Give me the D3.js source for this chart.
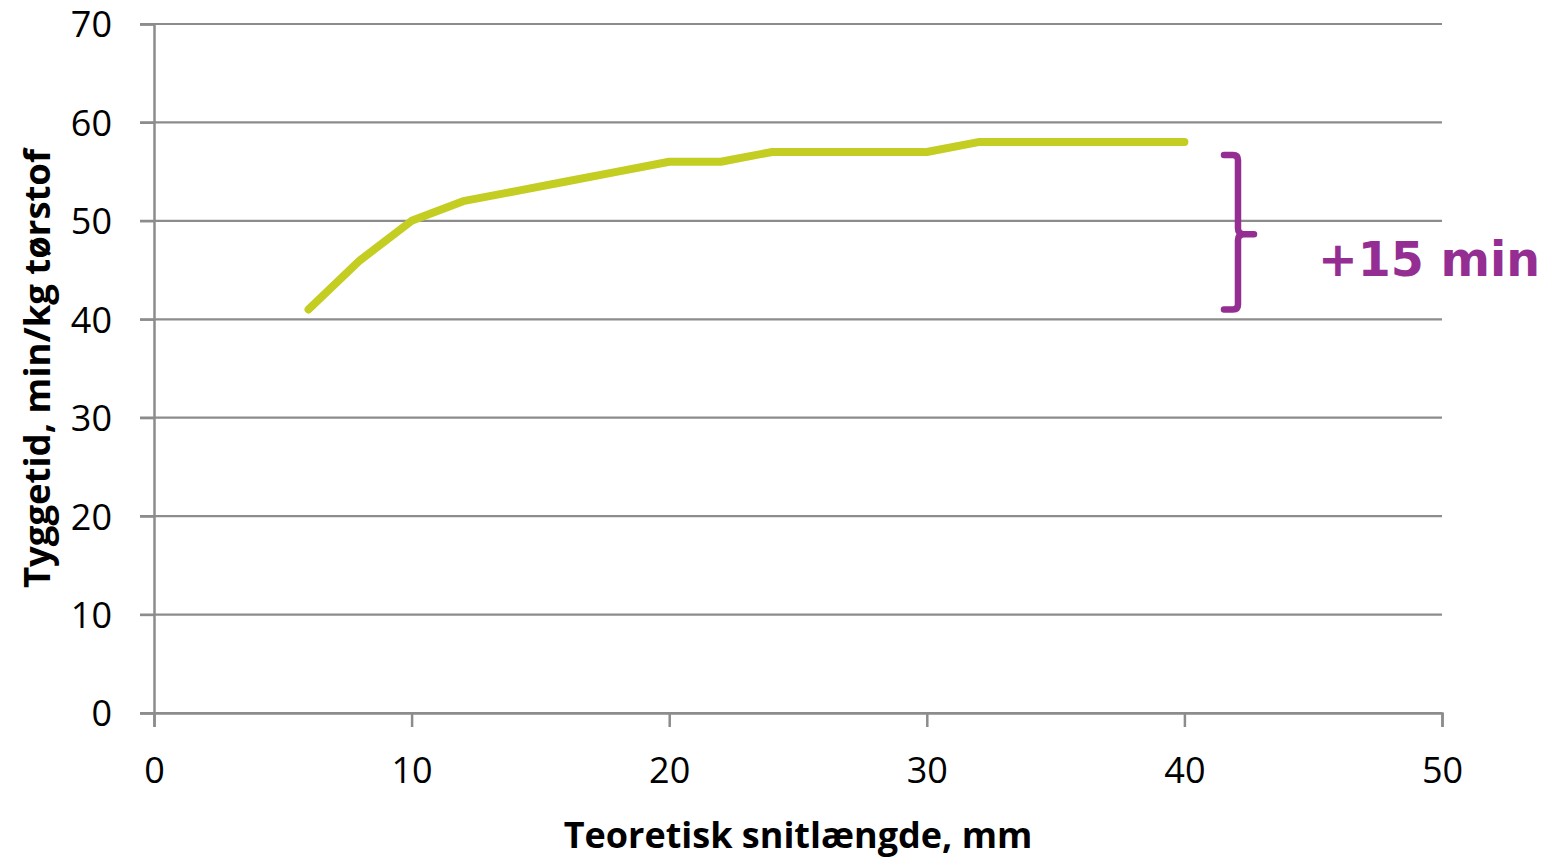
<!DOCTYPE html>
<html>
<head>
<meta charset="utf-8">
<script src="https://cdn.jsdelivr.net/npm/d3@7"></script>
<style>
  html, body { margin: 0; padding: 0; background: #fff; }
  svg { display: block; }
</style>
</head>
<body>
<svg id="chart" width="1555" height="858"></svg>
<script>
// Theoretical cut length (mm) vs. chewing time (min/kg dry matter)
const snitlaengde = [6, 8, 10, 12, 14, 16, 18, 20, 22, 24, 26, 28, 30, 32, 34, 36, 38, 40];
const tyggetid    = [41, 46, 50, 52, 53, 54, 55, 56, 56, 57, 57, 57, 57, 58, 58, 58, 58, 58];
const xTicks = [0, 10, 20, 30, 40, 50];
const yTicks = [0, 10, 20, 30, 40, 50, 60, 70];
const xTitle = "Teoretisk snitlængde, mm";
const yTitle = "Tyggetid, min/kg tørstof";
// Bracket marking the rise in chewing time
const bracketX = 42.08;
const bracketRange = [41, 56.7];
const bracketLabel = "+15 min";

const FONT = "'Open Sans', 'Liberation Sans', sans-serif";

const svg = d3.select("#chart");
const plotLeft = 154, plotRight = 1442, plotTop = 24, plotBottom = 713;

const x = d3.scaleLinear().domain([0, 50]).range([plotLeft, plotRight]);
const y = d3.scaleLinear().domain([0, 70]).range([plotBottom, plotTop]);

const gridColor = "#8c8c8c";

// horizontal gridlines (extend left as tick marks)
svg.append("g")
  .selectAll("line")
  .data(yTicks)
  .join("line")
  .attr("x1", plotLeft - 14).attr("x2", plotRight)
  .attr("y1", d => y(d)).attr("y2", d => y(d))
  .attr("stroke", gridColor).attr("stroke-width", 2.2);

// y axis
const yAxis = svg.append("g")
  .attr("transform", `translate(${plotLeft},0)`)
  .call(d3.axisLeft(y).tickValues(yTicks).tickSize(14).tickPadding(28).tickFormat(d3.format("d")));
yAxis.select(".domain").attr("stroke", gridColor).attr("stroke-width", 2.5);
yAxis.selectAll(".tick line").attr("stroke", gridColor).attr("stroke-width", 2.2);
yAxis.selectAll(".tick text")
  .style("font-family", FONT).style("font-size", "36px")
  .attr("fill", "#000").attr("dy", "0.36em");

// x axis
const xAxis = svg.append("g")
  .attr("transform", `translate(0,${plotBottom})`)
  .call(d3.axisBottom(x).tickValues(xTicks).tickSize(14).tickPadding(30).tickFormat(d3.format("d")));
xAxis.select(".domain").attr("stroke", gridColor).attr("stroke-width", 2.5);
xAxis.selectAll(".tick line").attr("stroke", gridColor).attr("stroke-width", 2.5);
xAxis.selectAll(".tick text")
  .style("font-family", FONT).style("font-size", "36px")
  .attr("fill", "#000");

// data line
const line = d3.line()
  .x((d, i) => x(snitlaengde[i]))
  .y(d => y(d));
svg.append("path")
  .datum(tyggetid)
  .attr("d", line)
  .attr("fill", "none")
  .attr("stroke", "#c3cd22")
  .attr("stroke-width", 8)
  .attr("stroke-linecap", "round")
  .attr("stroke-linejoin", "round");

// curly bracket
const purple = "#952e93";
const bx = x(bracketX);
const yTop = y(bracketRange[1]), yBot = y(bracketRange[0]);
const yMid = (yTop + yBot) / 2 + 2;
const bp = d3.path();
bp.moveTo(bx - 14, yTop);
bp.lineTo(bx - 5, yTop);
bp.quadraticCurveTo(bx, yTop, bx, yTop + 5);
bp.lineTo(bx, yMid - 6);
bp.quadraticCurveTo(bx, yMid, bx + 6, yMid);
bp.lineTo(bx + 16, yMid);
bp.moveTo(bx + 6, yMid);
bp.quadraticCurveTo(bx, yMid, bx, yMid + 6);
bp.lineTo(bx, yBot - 5);
bp.quadraticCurveTo(bx, yBot, bx - 5, yBot);
bp.lineTo(bx - 14, yBot);
svg.append("path")
  .attr("d", bp.toString())
  .attr("fill", "none")
  .attr("stroke", purple)
  .attr("stroke-width", 6.5)
  .attr("stroke-linecap", "round")
  .attr("stroke-linejoin", "round");

svg.append("text")
  .attr("x", 1318).attr("y", 276)
  .style("font-family", "Verdana, 'DejaVu Sans', sans-serif")
  .style("font-weight", "bold")
  .style("font-size", "47.5px")
  .style("fill", purple)
  .text(bracketLabel);

// axis titles
svg.append("text")
  .attr("x", (plotLeft + plotRight) / 2).attr("y", 848)
  .attr("text-anchor", "middle")
  .style("font-family", FONT)
  .style("font-weight", "bold")
  .style("font-size", "36px")
  .style("fill", "#000")
  .text(xTitle);

svg.append("text")
  .attr("transform", `translate(50,${(plotTop + plotBottom) / 2}) rotate(-90)`)
  .attr("text-anchor", "middle")
  .style("font-family", FONT)
  .style("font-weight", "bold")
  .style("font-size", "36.5px")
  .style("fill", "#000")
  .text(yTitle);
</script>
</body>
</html>
